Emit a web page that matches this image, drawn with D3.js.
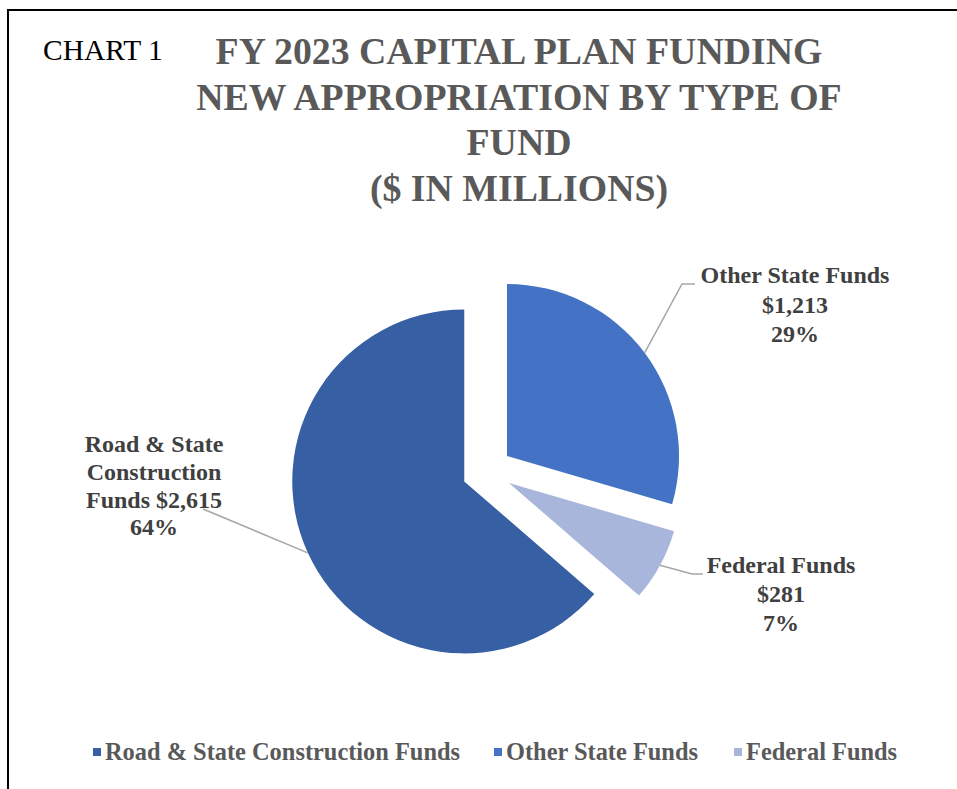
<!DOCTYPE html>
<html><head><meta charset="utf-8">
<script src="https://cdn.jsdelivr.net/npm/d3@7"></script>
<style>html,body{margin:0;padding:0;background:#fff;}svg{display:block;}</style>
</head><body>
<svg id="chart" width="957" height="789"></svg>
<script>
const categories = ["Road & State Construction Funds", "Other State Funds", "Federal Funds"];
const values = [2615, 1213, 281];
const percents = ["64%", "29%", "7%"];
const valueLabels = ["$2,615", "$1,213", "$281"];
const colors = ["#375FA3", "#4472C4", "#A9B6DB"];
const titleLines = ["FY 2023 CAPITAL PLAN FUNDING", "NEW APPROPRIATION BY TYPE OF", "FUND", "($ IN MILLIONS)"];
const labelLines = [["Road & State", "Construction", "Funds $2,615", "64%"], ["Other State Funds", "$1,213", "29%"], ["Federal Funds", "$281", "7%"]];

const svg = d3.select("#chart");
const font = "'Liberation Serif','Times New Roman',serif";

svg.append("rect").attr("x", 8).attr("y", 10).attr("width", 970).attr("height", 800)
  .attr("fill", "none").attr("stroke", "#000").attr("stroke-width", 2);

svg.append("text").attr("x", 43).attr("y", 60).attr("font-family", font).attr("font-size", 29.5)
  .attr("fill", "#000").text("CHART 1");

const title = svg.append("text").attr("font-family", font).attr("font-weight", "bold")
  .attr("font-size", 37.8).attr("fill", "#595959").attr("text-anchor", "middle");
titleLines.forEach((t, i) => title.append("tspan").attr("x", 519).attr("y", 64 + i * 45.5).text(t));

const cx = 487, cy = 471, r = 172, explode = 25;
const total = d3.sum(values);
const start = 2 * Math.PI * (1 - values[0] / total);
const pie = d3.pie().sort(null).startAngle(start).endAngle(start + 2 * Math.PI);
const arcs = pie(values);
const arc = d3.arc().innerRadius(0).outerRadius(r);
const dir = a => [Math.sin(a), -Math.cos(a)];

const g = svg.append("g").attr("transform", `translate(${cx},${cy})`);
arcs.forEach((d, i) => {
  const m = (d.startAngle + d.endAngle) / 2;
  const [dx, dy] = dir(m);
  g.append("path").attr("d", arc(d)).attr("fill", colors[i])
    .attr("transform", `translate(${dx * explode},${dy * explode})`);
});

// labels: [label center x offset, first baseline offset, line height, leader points]
const labelLayout = [
  {x: 154 - cx, y: 452 - cy, lh: 27.8, leader: [[203 - cx, 509 - cy]]},
  {x: 795 - cx, y: 283 - cy, lh: 29.5, leader: [[682 - cx, 284 - cy], [695 - cx, 284 - cy]]},
  {x: 781 - cx, y: 573 - cy, lh: 29, leader: [[692 - cx, 574 - cy], [703 - cx, 574 - cy]]}
];
arcs.forEach((d, i) => {
  const m = (d.startAngle + d.endAngle) / 2;
  const [dx, dy] = dir(m);
  const p0 = [dx * (explode + r), dy * (explode + r)];
  const L = labelLayout[i];
  g.append("path").attr("d", d3.line()([p0, ...L.leader])).attr("fill", "none")
    .attr("stroke", "#A6A6A6").attr("stroke-width", 1.5);
  const t = g.append("text").attr("font-family", font).attr("font-weight", "bold")
    .attr("font-size", 24).attr("fill", "#404040").attr("text-anchor", "middle");
  labelLines[i].forEach((s, j) => t.append("tspan").attr("x", L.x).attr("y", L.y + j * L.lh).text(s));
});

// legend
const legendX = [93, 494, 734];
const lg = svg.append("g");
categories.forEach((c, i) => {
  lg.append("rect").attr("x", legendX[i]).attr("y", 748).attr("width", 8).attr("height", 8).attr("fill", colors[i]);
  lg.append("text").attr("x", legendX[i] + 12).attr("y", 760).attr("font-family", font)
    .attr("font-weight", "bold").attr("font-size", 24.4).attr("fill", "#595959").text(c);
});
</script>
</body></html>
